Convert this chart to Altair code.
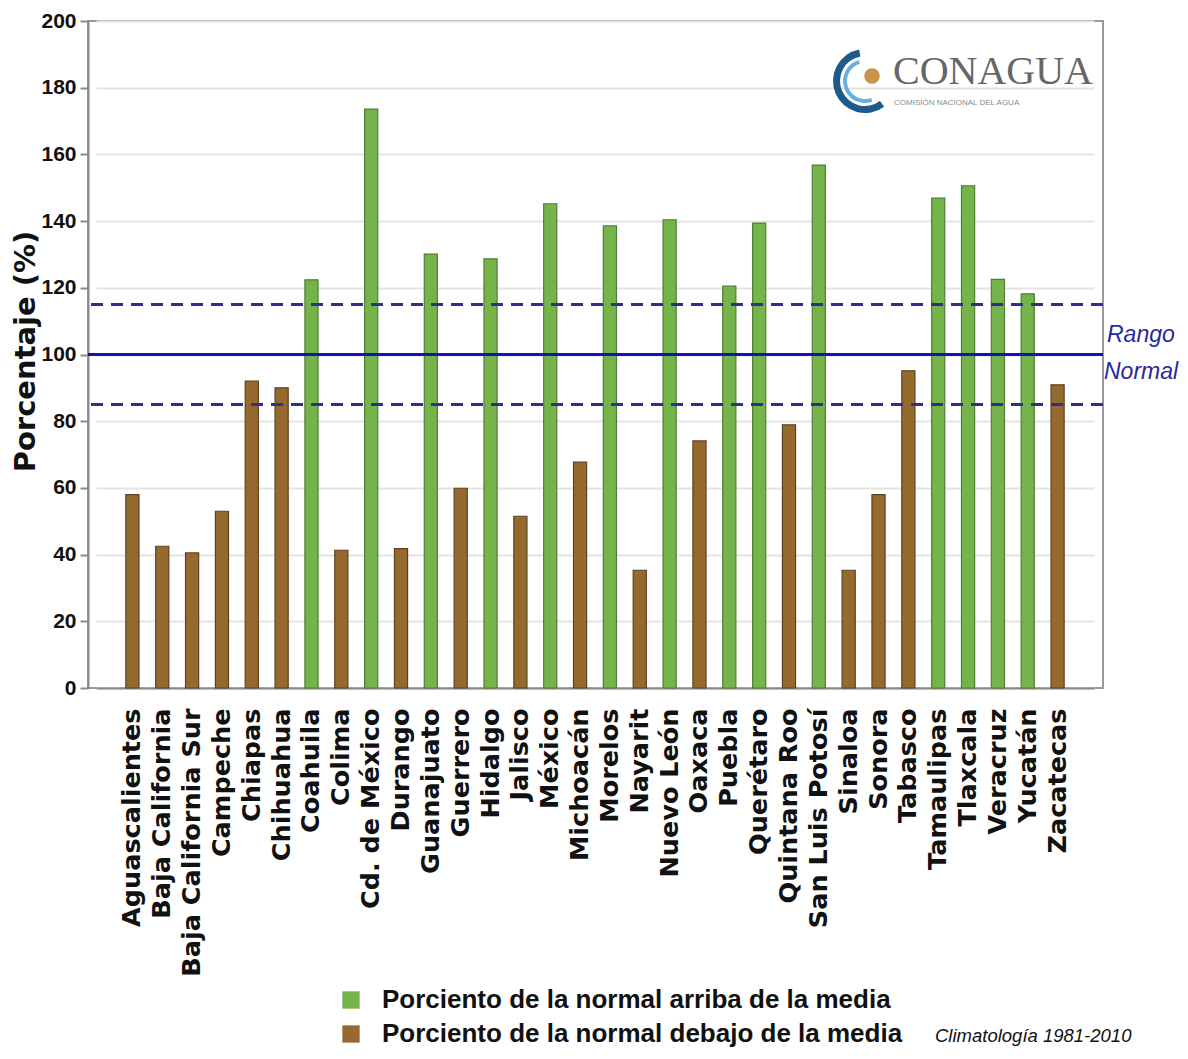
import altair as alt
import pandas as pd

estados = ["Aguascalientes", "Baja California", "Baja California Sur", "Campeche", "Chiapas",
           "Chihuahua", "Coahuila", "Colima", "Cd. de México", "Durango", "Guanajuato",
           "Guerrero", "Hidalgo", "Jalisco", "México", "Michoacán", "Morelos", "Nayarit",
           "Nuevo León", "Oaxaca", "Puebla", "Querétaro", "Quintana Roo", "San Luis Potosí",
           "Sinaloa", "Sonora", "Tabasco", "Tamaulipas", "Tlaxcala", "Veracruz", "Yucatán",
           "Zacatecas"]
porcentaje = [58, 42.5, 40.5, 53, 92, 90, 122.4, 41.3, 173.6, 41.8, 130.1, 59.9, 128.7, 51.5,
              145.2, 67.7, 138.6, 35.3, 140.4, 74.1, 120.5, 139.4, 78.9, 156.8, 35.3, 58,
              95.1, 146.9, 150.6, 122.5, 118.2, 90.9]
series = ["Porciento de la normal arriba de la media",
          "Porciento de la normal debajo de la media"]
rango_limites = [85, 115]
media = [100]

df = pd.DataFrame({
    "estado": estados,
    "valor": porcentaje,
    "tipo": [series[0] if v >= 100 else series[1] for v in porcentaje],
})

SANS = "Liberation Sans, Arial, sans-serif"
WIDE = "DejaVu Sans, Verdana, sans-serif"

bars = alt.Chart(df).mark_bar(strokeWidth=1.2).encode(
    x=alt.X("estado:N", sort=None,
            scale=alt.Scale(paddingInner=0.56, paddingOuter=1, range=[8, 1006]),
            axis=alt.Axis(title=None, labelAngle=270, labelAlign="right",
                          labelBaseline="middle", labelPadding=20, ticks=False,
                          labelFont=WIDE, labelFontSize=25.5, labelFontWeight="bold",
                          labelColor="#111111", domainColor="#8a8a8a", domainWidth=2,
                          labelLimit=400)),
    y=alt.Y("valor:Q",
            scale=alt.Scale(domain=[0, 200], nice=False),
            axis=alt.Axis(title="Porcentaje (%)", values=list(range(0, 201, 20)),
                          labelFont=SANS, labelFontSize=21, labelFontWeight="bold",
                          labelColor="#111111", labelPadding=4, tickSize=8,
                          tickColor="#8a8a8a", tickWidth=2, domainColor="#8a8a8a",
                          domainWidth=2, gridColor="#e4e4e4", gridWidth=2,
                          titleFont=WIDE, titleFontSize=29, titleFontWeight="bold",
                          titleColor="#111111", titleX=-63, titleY=330,
                          titleAngle=270, titleBaseline="middle", titleAlign="center")),
    color=alt.Color("tipo:N",
                    scale=alt.Scale(domain=series, range=["#74b44a", "#966a2e"]),
                    legend=alt.Legend(title=None, orient="none", legendX=250, legendY=966,
                                      symbolType="square", symbolSize=300,
                                      symbolStrokeWidth=0, labelFont=SANS,
                                      labelFontSize=26, labelFontWeight="bold",
                                      labelColor="#111111", labelOffset=18,
                                      rowPadding=8, labelLimit=700)),
    stroke=alt.Stroke("tipo:N",
                      scale=alt.Scale(domain=series, range=["#4e7f33", "#5e4220"]),
                      legend=None),
)

lim_df = pd.DataFrame({"y": rango_limites})
media_df = pd.DataFrame({"y": media})

dashed = alt.Chart(lim_df).mark_rule(color="#2f2f8c", strokeWidth=3,
                                     strokeDash=[12, 8]).encode(y="y:Q")
solid = alt.Chart(media_df).mark_rule(color="#1414b4", strokeWidth=3).encode(y="y:Q")


def label(text, x, y, **kw):
    return alt.Chart(pd.DataFrame({"t": [text]})).mark_text(align="left", **kw).encode(
        x=alt.value(x), y=alt.value(y), text="t:N")


rango = label("Rango", 1019, 321, font=SANS, fontSize=23,
              fontStyle="italic", color="#28289a", baseline="alphabetic")
normal = label("Normal", 1016, 358, font=SANS, fontSize=23,
               fontStyle="italic", color="#28289a", baseline="alphabetic")
clima = label("Climatología 1981-2010", 847, 1021, font=SANS, fontSize=18.5,
              fontStyle="italic", color="#111111", baseline="alphabetic")
conagua = label("CONAGUA", 805, 63, font="Liberation Serif, Times New Roman, serif",
                fontSize=40, color="#666666", baseline="alphabetic")
comision = label("COMISIÓN NACIONAL DEL AGUA", 806, 84, font=SANS,
                 fontSize=8, color="#8a8a8a", baseline="alphabetic")

# logo swoosh (decorative)
logo_df = pd.DataFrame({"k": [0]})
swoosh_outer = alt.Chart(logo_df).mark_arc(
    innerRadius=25, outerRadius=32, theta=2.5, theta2=6.1, color="#1f5a8c"
).encode(x=alt.value(777), y=alt.value(60))
swoosh_inner = alt.Chart(logo_df).mark_arc(
    innerRadius=18, outerRadius=22, theta=2.8, theta2=6.0, color="#6aaedc"
).encode(x=alt.value(777), y=alt.value(60))
bird = alt.Chart(logo_df).mark_point(
    filled=True, shape="circle", size=240, color="#c8924a", opacity=1
).encode(x=alt.value(784), y=alt.value(55))

chart = alt.layer(bars, dashed, solid, rango, normal, clima, conagua, comision,
                  swoosh_outer, swoosh_inner, bird).properties(
    width=1015, height=667,
    autosize=alt.AutoSizeParams(type="none"),
    padding={"left": 80, "top": 13, "right": 77, "bottom": 363},
    background="white",
).configure_view(stroke="#9a9a9a", strokeWidth=2)

chart.save("out.html", embed_options={"renderer": "svg", "actions": False})
